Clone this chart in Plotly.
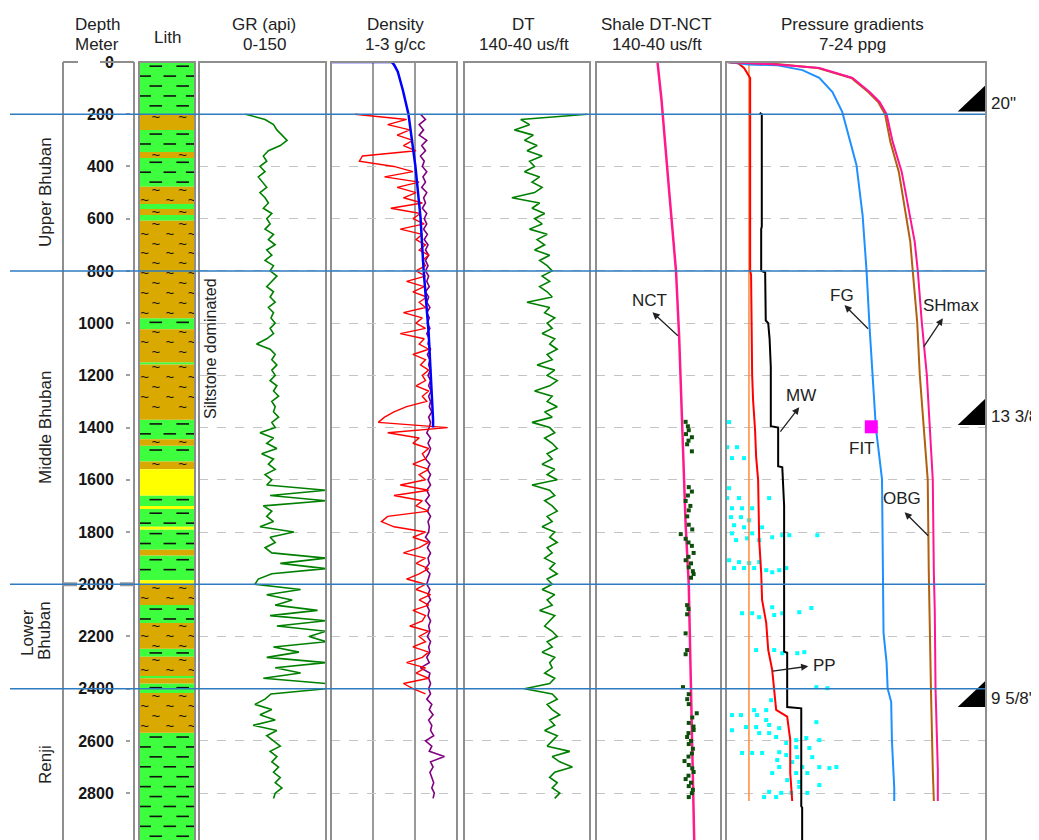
import plotly.graph_objects as go

# ---------------- DATA ----------------
log_depth = list(range(200, 2821, 20))          # sampling depths (m) for GR / DT / purple density
gr_api = [55, 78, 88, 92, 98, 104, 96, 82, 76, 80,
          72, 78, 70, 75, 80, 72, 78, 82, 76, 86,
          80, 84, 78, 88, 82, 90, 80, 86, 78, 88,
          84, 92, 86, 80, 88, 84, 90, 82, 88, 85,
          90, 84, 88, 80, 68, 84, 90, 86, 92, 86,
          90, 84, 92, 88, 94, 86, 90, 88, 94, 86,
          90, 72, 88, 80, 92, 74, 88, 82, 90, 78,
          86, 80, 150, 84, 150, 76, 86, 80, 88, 72,
          112, 84, 90, 78, 86, 150, 96, 150, 86, 70,
          66, 120, 80, 110, 90, 140, 84, 150, 92, 150,
          130, 150, 88, 118, 80, 150, 90, 120, 76, 150,
          150, 85, 78, 66, 86, 72, 90, 64, 92, 80,
          88, 96, 84, 92, 86, 94, 88, 96, 90, 98,
          90, 88]
dt_us = [42, 95, 88, 100, 85, 92, 82, 90, 78, 88,
         84, 92, 80, 86, 78, 84, 102, 80, 86, 76,
         84, 78, 88, 74, 82, 76, 84, 72, 80, 74,
         70, 78, 72, 80, 74, 70, 90, 72, 76, 68,
         74, 70, 78, 68, 72, 66, 74, 70, 82, 68,
         74, 66, 72, 84, 70, 74, 66, 76, 70, 86,
         72, 68, 76, 70, 66, 74, 70, 78, 68, 74,
         66, 86, 72, 68, 76, 70, 66, 74, 70, 78,
         68, 72, 66, 74, 70, 76, 68, 72, 66, 74,
         70, 78, 68, 74, 70, 80, 68, 72, 76, 70,
         66, 74, 70, 78, 68, 72, 70, 76, 68, 72,
         92, 70, 66, 74, 70, 64, 72, 68, 76, 66,
         70, 74, 56, 70, 64, 54, 68, 72, 66, 70,
         64, 68]
dens_purple = [2.42, 2.5, 2.4, 2.47, 2.4, 2.52, 2.44, 2.5, 2.42, 2.48,
               2.45, 2.52, 2.46, 2.5, 2.44, 2.52, 2.47, 2.5, 2.45, 2.52,
               2.48, 2.52, 2.47, 2.53, 2.48, 2.54, 2.5, 2.55, 2.5, 2.54,
               2.5, 2.55, 2.52, 2.56, 2.5, 2.55, 2.52, 2.57, 2.52, 2.56,
               2.53, 2.57, 2.52, 2.56, 2.54, 2.58, 2.53, 2.57, 2.55, 2.58,
               2.54, 2.58, 2.55, 2.59, 2.55, 2.58, 2.56, 2.6, 2.55, 2.58,
               2.56, 2.52, 2.58, 2.54, 2.58, 2.55, 2.5, 2.57, 2.53, 2.58,
               2.54, 2.58, 2.52, 2.56, 2.5, 2.57, 2.53, 2.58, 2.54, 2.56,
               2.55, 2.5, 2.57, 2.53, 2.58, 2.54, 2.56, 2.5, 2.57, 2.55,
               2.52, 2.57, 2.54, 2.58, 2.52, 2.56, 2.54, 2.58, 2.55, 2.57,
               2.53, 2.58, 2.55, 2.57, 2.52, 2.56, 2.42, 2.57, 2.55, 2.58,
               2.55, 2.58, 2.52, 2.6, 2.56, 2.62, 2.55, 2.6, 2.58, 2.63,
               2.5, 2.6, 2.56, 2.8, 2.58, 2.62, 2.57, 2.6, 2.63, 2.6,
               2.64, 2.62]
dens_red_depth = list(range(200, 2421, 20))
dens_red = [1.38, 2.2, 1.9, 2.25, 2.05, 2.3, 2.15, 2.35, 1.5, 1.45,
            2.0, 2.3, 1.85, 2.4, 2.05, 2.35, 2.15, 2.45, 1.95, 2.42,
            2.3, 2.48, 2.1, 2.45, 2.35, 2.5, 2.4, 2.55, 2.45, 2.5,
            2.35, 2.5, 2.2, 2.48, 2.3, 2.52, 2.4, 2.5, 2.15, 2.45,
            2.35, 2.5, 2.1, 2.48, 2.4, 2.55, 2.3, 2.5, 2.42, 2.55,
            2.45, 2.5, 2.35, 2.55, 2.45, 2.52, 2.2, 2.0, 1.85, 1.75,
            2.85, 1.9, 2.4, 2.3, 2.55, 2.45, 2.5, 2.3, 2.55, 2.4,
            2.5, 2.1, 2.55, 2.0, 2.45, 2.35, 2.55, 1.9, 1.8, 2.0,
            2.5, 2.3, 2.55, 2.4, 2.15, 2.5, 2.35, 2.55, 2.4, 2.2,
            2.5, 2.35, 2.58, 2.4, 2.55, 2.3, 2.5, 2.45, 2.25, 2.55,
            2.4, 2.5, 2.3, 2.55, 2.45, 2.2, 2.5, 2.35, 2.55, 2.15,
            2.3, 2.5]
dens_trend_depth = [0, 0, 10, 37, 107, 145, 200, 400, 593, 796, 1038, 1370, 1400]
dens_trend = [1.0, 1.96, 2.0, 2.06, 2.14, 2.18, 2.23, 2.34, 2.42, 2.47, 2.55, 2.62, 2.62]

nct_depth = [0, 145, 505, 800, 1050, 1336, 1772, 2000, 2400, 2672, 3010]
nct_dt = [90.8, 87.6, 81.3, 76.0, 73.5, 71.4, 68.3, 65.8, 64.0, 62.5, 61.3]
shale_depth = [1378, 1395, 1410, 1425, 1437, 1450, 1464, 1491, 1628, 1645, 1660, 1681, 1700, 1717,
               1740, 1772, 1790, 1808, 1826, 1840, 1853, 1880, 1895, 1908, 1920, 1935, 1950, 1961,
               1975, 2080, 2095, 2115, 2188, 2252, 2268, 2394, 2421, 2440, 2459, 2494, 2510, 2531,
               2545, 2558, 2570, 2585, 2600, 2612, 2630, 2648, 2660, 2677, 2692, 2705, 2719, 2733,
               2746, 2760, 2773, 2787, 2800, 2815]
shale_dt = [68.3, 66.5, 65.8, 68, 63.3, 66, 67.1, 63.3, 65.8, 63.3, 66.5, 68.3, 64.5, 65.8,
            67, 65.8, 63, 72.2, 68.3, 66, 63.3, 61.9, 66, 68.3, 64, 65.8, 62.5, 61.9,
            64, 67.1, 66, 67.1, 68.3, 67.1, 68.3, 70.4, 65.8, 67, 65.8, 59.4, 63, 65.8,
            62, 61.9, 66, 67.1, 64, 65.8, 62.5, 63.3, 66, 69.2, 65.8, 63, 61.9, 66,
            68.3, 64, 65.8, 62.5, 63.3, 65.8]

hydro_depth = [0, 2830]
hydro_ppg = [8.5, 8.5]
pp_depth = [0, 5, 23, 61, 800, 815, 1198, 1294, 1409, 1512, 1600, 1830, 1956, 2060, 2148,
            2251, 2328, 2404, 2481, 2507, 2596, 2722, 2830]
pp_ppg = [7.07, 7.8, 8.18, 8.58, 8.58, 8.64, 8.71, 8.77, 8.9, 8.97, 9.1, 9.17, 9.3, 9.36, 9.63,
          9.76, 10.02, 10.15, 10.28, 11.0, 11.2, 11.2, 11.33]
mw_depth = [195, 200, 630, 640, 800, 805, 990, 1000, 1060, 1170, 1395, 1400, 1548, 1552, 1700,
            2258, 2262, 2470, 2475, 2850, 2855, 3010]
mw_ppg = [9.2, 9.34, 9.34, 9.3, 9.3, 9.56, 9.6, 9.76, 9.85, 9.93, 9.93, 10.41, 10.41, 10.68, 10.8,
          10.8, 11.0, 11.0, 11.92, 11.92, 11.98, 11.98]
fg_depth = [0, 10, 12, 31, 61, 115, 191, 268, 394, 586, 800, 1018, 1198, 1400, 1597, 1800, 2000,
            2186, 2300, 2400, 2450, 2600, 2780, 2830]
fg_ppg = [7.07, 8.5, 10.3, 12.0, 13.1, 13.96, 14.6, 14.94, 15.53, 15.93, 16.19, 16.39, 16.58, 16.8,
          17.2, 17.25, 17.3, 17.3, 17.5, 17.57, 17.8, 17.85, 18.0, 18.0]
obg_depth = [0, 10, 23, 61, 115, 153, 200, 306, 421, 547, 689, 800, 995, 1198, 1400, 1600, 1956,
             2100, 2400, 2710, 2830]
obg_ppg = [7.07, 10.3, 13.1, 15.27, 16.39, 17.04, 17.5, 17.9, 18.49, 18.88, 19.34, 19.54, 19.8,
           20.13, 20.35, 20.52, 20.59, 20.65, 20.7, 20.85, 20.85]
shmax_depth = [0, 8, 23, 61, 115, 153, 200, 306, 421, 547, 689, 800, 995, 1198, 1400, 1600, 1956,
               2100, 2400, 2710, 2830]
shmax_ppg = [7.07, 10.3, 13.0, 15.2, 16.3, 16.95, 17.4, 17.75, 18.3, 18.65, 19.05, 19.21, 19.5,
             19.67, 19.95, 20.19, 20.26, 20.3, 20.4, 20.52, 20.59]
fit_depth = [1397]
fit_ppg = [16.5]
ppobs_depth = [1379, 1475, 1475, 1517, 1517, 1632, 1670, 1670, 1670, 1709, 1709, 1709, 1743, 1743,
               1755, 1774, 1782, 1782, 1805, 1805, 1820, 1812, 1812, 1812, 1831, 1824, 1831, 1908,
               1915, 1919, 1915, 1938, 1938, 1938, 1946, 1946, 1938, 1954, 2111, 2111, 2126, 2088,
               2118, 2111, 2107, 2091, 2252, 2252, 2264, 2264, 2260, 2394, 2398, 2444, 2482, 2482,
               2501, 2501, 2501, 2520, 2559, 2547, 2547, 2539, 2551, 2528, 2570, 2570, 2585, 2597,
               2589, 2597, 2608, 2624, 2627, 2643, 2646, 2646, 2646, 2654, 2662, 2662, 2673, 2681,
               2700, 2700, 2700, 2700, 2723, 2723, 2723, 2704, 2750, 2757, 2769, 2795, 2799, 2799,
               2799, 2815, 2815, 2776]
ppobs_ppg = [7.2, 7.07, 7.72, 7.39, 8.18, 7.2, 7.07, 7.85, 9.82, 7.39, 8.05, 8.71, 7.33, 7.98,
             8.51, 7.53, 8.18, 9.36, 7.39, 8.71, 10.02, 10.68, 11.14, 12.97, 7.66, 8.38, 9.17, 7.2,
             7.85, 8.51, 9.17, 7.53, 8.18, 8.84, 9.63, 10.48, 10.94, 10.02, 8.05, 8.71, 9.17, 10.02,
             10.15, 10.68, 11.79, 12.58, 8.97, 10.15, 10.68, 11.66, 12.12, 12.91, 13.63, 9.95, 8.84, 9.63,
             7.39, 7.98, 9.03, 9.63, 7.39, 8.31, 8.97, 9.82, 10.48, 12.91, 9.17, 9.82, 10.28, 11.59,
             12.25, 13.1, 10.94, 11.59, 12.45, 10.48, 8.05, 8.71, 9.36, 10.94, 11.66, 12.64, 10.35, 11.33,
             10.48, 11.99, 13.1, 14.22, 10.02, 11.59, 12.32, 13.76, 11.0, 11.79, 13.1, 9.82, 10.61, 11.27,
             12.32, 9.49, 10.28, 11.79]

lith_top = [0, 200, 260, 345, 368, 478, 544, 563, 586, 608, 981, 1023, 1150, 1158, 1370, 1445, 1470,
            1530, 1560, 1660, 1700, 1712, 1780, 1790, 1868, 1890, 1985, 2002, 2079, 2148, 2247, 2278,
            2351, 2360, 2380, 2416, 2569]
lith_base = [200, 260, 345, 368, 478, 544, 563, 586, 608, 981, 1023, 1150, 1158, 1370, 1445, 1470, 1530,
             1560, 1660, 1700, 1712, 1780, 1790, 1868, 1890, 1985, 2002, 2079, 2148, 2247, 2278, 2351,
             2360, 2380, 2416, 2569, 3010]
lith_type = ["shale", "silt", "shale", "silt", "shale", "silt", "shale", "silt", "shale", "silt",
             "shale", "silt", "shale", "silt", "shale", "silt", "shale", "silt", "sand", "shale",
             "sand", "shale", "sand", "shale", "silt", "shale", "sand", "silt", "shale", "silt",
             "shale", "silt", "shale", "silt", "shale", "silt", "shale"]

formation_tops = [200, 800, 2000, 2400]
casing_shoe = [190, 1390, 2470]
casing_label = ['20"', '13 3/8"', '9 5/8"']
depth_ticks = list(range(0, 3001, 200))

# ---------------- LAYOUT HELPERS ----------------
W, H = 1039, 840
OFF = 8                      # page offset of the plot div (body margin)
TOPPX = 62
def px(x): return (x - OFF) / W
def py(y): return 1 - (y - OFF) / H
YDOM = [0, py(TOPPX)]
DMAX = 3010

tracks = {"depth": (63, 134), "lith": (139, 195), "gr": (199, 326), "dens": (331, 457),
          "dt": (464, 590), "shale": (596, 721), "press": (726, 986)}

FONT = "Liberation Sans, Arial, sans-serif"
fig = go.Figure()

# Lithology bars
lith_colors = {"shale": "#3dff3d", "silt": "#d9a900", "sand": "#ffff00"}
for kind in ["shale", "silt", "sand"]:
    tops = [t for t, k in zip(lith_top, lith_type) if k == kind]
    thick = [b - t for t, b, k in zip(lith_top, lith_base, lith_type) if k == kind]
    fig.add_trace(go.Bar(x=[0.5] * len(tops), y=thick, base=tops, width=1.0,
                         marker=dict(color=lith_colors[kind], line=dict(width=0)),
                         xaxis="x", yaxis="y", hoverinfo="skip"))
# lithology symbols
dx, dy, wx, wy = [], [], [], []
for t, b, k in zip(lith_top, lith_base, lith_type):
    if k == "sand":
        continue
    d, row = t + 16, 0
    while d < b - 6:
        xs = [0.3, 0.78] if row % 2 == 0 else [0.1, 0.55, 0.95]
        for xv in xs:
            if k == "shale":
                dx.append(xv); dy.append(d)
            else:
                wx.append(xv); wy.append(d)
        d += 38; row += 1
fig.add_trace(go.Scatter(x=dx, y=dy, mode="markers", xaxis="x", yaxis="y", hoverinfo="skip",
                         marker=dict(symbol="line-ew", size=9, line=dict(width=1.6, color="#111"))))
fig.add_trace(go.Scatter(x=wx, y=wy, mode="text", text=["~"] * len(wx), xaxis="x", yaxis="y",
                         textfont=dict(size=15, color="#111"), hoverinfo="skip"))

# GR
fig.add_trace(go.Scatter(x=gr_api, y=log_depth, mode="lines", line=dict(color="#008000", width=1.6),
                         xaxis="x2", yaxis="y"))
# Density
fig.add_trace(go.Scatter(x=dens_purple, y=log_depth, mode="lines", line=dict(color="#800080", width=1.6),
                         xaxis="x3", yaxis="y"))
fig.add_trace(go.Scatter(x=dens_red, y=dens_red_depth, mode="lines", line=dict(color="#ff0000", width=1.4),
                         xaxis="x3", yaxis="y"))
fig.add_trace(go.Scatter(x=dens_trend, y=dens_trend_depth, mode="lines", line=dict(color="#0000ff", width=2.5),
                         xaxis="x3", yaxis="y"))
# DT
fig.add_trace(go.Scatter(x=dt_us, y=log_depth, mode="lines", line=dict(color="#008000", width=1.6),
                         xaxis="x4", yaxis="y"))
# Shale DT - NCT
fig.add_trace(go.Scatter(x=nct_dt, y=nct_depth, mode="lines", line=dict(color="#ff1a8c", width=2.5),
                         xaxis="x5", yaxis="y"))
fig.add_trace(go.Scatter(x=shale_dt, y=shale_depth, mode="markers",
                         marker=dict(color="#0b4f0b", size=4, symbol="square"), xaxis="x5", yaxis="y"))
# Pressure gradients
fig.add_trace(go.Scatter(x=ppobs_ppg, y=ppobs_depth, mode="markers",
                         marker=dict(color="#00ffff", size=4, symbol="square"), xaxis="x6", yaxis="y"))
fig.add_trace(go.Scatter(x=hydro_ppg, y=hydro_depth, mode="lines", line=dict(color="#ff8a3d", width=1.5),
                         xaxis="x6", yaxis="y"))
fig.add_trace(go.Scatter(x=pp_ppg, y=pp_depth, mode="lines", line=dict(color="#ff0000", width=2),
                         xaxis="x6", yaxis="y"))
fig.add_trace(go.Scatter(x=mw_ppg, y=mw_depth, mode="lines", line=dict(color="#000000", width=2),
                         xaxis="x6", yaxis="y"))
fig.add_trace(go.Scatter(x=fg_ppg, y=fg_depth, mode="lines", line=dict(color="#1e90ff", width=2),
                         xaxis="x6", yaxis="y"))
fig.add_trace(go.Scatter(x=shmax_ppg, y=shmax_depth, mode="lines", line=dict(color="#b0600f", width=2),
                         xaxis="x6", yaxis="y"))
fig.add_trace(go.Scatter(x=obg_ppg, y=obg_depth, mode="lines", line=dict(color="#ff1493", width=2),
                         xaxis="x6", yaxis="y"))
fig.add_trace(go.Scatter(x=fit_ppg, y=fit_depth, mode="markers",
                         marker=dict(color="#ff00ff", size=13, symbol="square"), xaxis="x6", yaxis="y"))
# casing shoes
for cd in casing_shoe:
    fig.add_trace(go.Scatter(x=[23.95, 23.95, 22.15, 23.95], y=[cd - 100, cd, cd, cd - 100],
                             mode="lines", fill="toself", fillcolor="#000000",
                             line=dict(width=0, color="#000000"), xaxis="x6", yaxis="y"))

# ---------------- AXES ----------------
def xax(key, rng, **kw):
    l, r = tracks[key]
    d = dict(domain=[px(l), px(r)], range=rng, showticklabels=False, ticks="", showline=False,
             zeroline=False, showgrid=False, anchor="y", fixedrange=True)
    d.update(kw)
    return d

fig.update_layout(
    xaxis=xax("lith", [0, 1]),
    xaxis2=xax("gr", [0, 150]),
    xaxis3=xax("dens", [1, 3], showgrid=True, tickvals=[5 / 3, 7 / 3], gridcolor="#9a9a9a", gridwidth=1.5),
    xaxis4=xax("dt", [140, 40]),
    xaxis5=xax("shale", [140, 40]),
    xaxis6=xax("press", [7, 24]),
    yaxis=dict(domain=YDOM, range=[DMAX, 0], anchor="free", position=px(130), side="left",
               tickvals=depth_ticks, ticks="outside", ticklen=4, tickcolor="#a0a0a0", tickwidth=1.5,
               tickfont=dict(family=FONT, size=16, color="#151515", weight="bold"),
               ticklabelstandoff=9, showgrid=True, gridcolor="#c4c4c4", griddash="dash", gridwidth=1,
               zeroline=False, showline=False, fixedrange=True, automargin=False),
)

# ---------------- SHAPES ----------------
shapes = []
FR = dict(color="#8e8e8e", width=2)
for key in ["lith", "gr", "dens", "dt", "shale", "press"]:
    l, r = tracks[key]
    shapes.append(dict(type="rect", xref="paper", yref="paper", x0=px(l), x1=px(r), y0=-0.02,
                       y1=py(TOPPX), line=FR, fillcolor="rgba(0,0,0,0)", layer="above"))
l, r = tracks["depth"]
for (a, b) in [(l, l), (r, r)]:
    shapes.append(dict(type="line", xref="paper", yref="paper", x0=px(a), x1=px(b), y0=-0.02,
                       y1=py(TOPPX), line=FR, layer="above"))
for (a, b) in [(l, 78), (100, r)]:
    shapes.append(dict(type="line", xref="paper", yref="paper", x0=px(a), x1=px(b), y0=py(TOPPX),
                       y1=py(TOPPX), line=FR, layer="above"))
for (a, b) in [(l, 77), (120, r)]:
    shapes.append(dict(type="line", xref="paper", yref="y", x0=px(a), x1=px(b), y0=2000, y1=2000,
                       line=dict(color="#9a9a9a", width=4), layer="above"))
for ft in formation_tops:
    shapes.append(dict(type="line", xref="paper", yref="y", x0=px(10), x1=px(985), y0=ft, y1=ft,
                       line=dict(color="#2f7bc0", width=1.5), layer="above"))
fig.update_layout(shapes=shapes)

# ---------------- ANNOTATIONS ----------------
ann = []
def txt(t, x, y, size=17, angle=0, xanchor="center"):
    ann.append(dict(text=t, x=px(x), y=py(y), xref="paper", yref="paper", showarrow=False,
                    xanchor=xanchor, yanchor="middle", textangle=angle,
                    font=dict(family=FONT, size=size, color="#222")))

headers = [("Depth", 97, 24), ("Meter", 97, 45), ("Lith", 167, 38), ("GR (api)", 264, 24), ("0-150", 264, 45),
           ("Density", 395, 24), ("1-3 g/cc", 395, 45), ("DT", 523, 24), ("140-40 us/ft", 524, 45),
           ("Shale DT-NCT", 656, 24), ("140-40 us/ft", 657, 45), ("Pressure gradients", 852, 24),
           ("7-24 ppg", 852, 45)]
for t, x, y in headers:
    txt(t, x, y)
for t, x, y in [("Upper Bhuban", 45, 192), ("Middle Bhuban", 45, 428), ("Lower", 27, 633),
                ("Bhuban", 44, 631), ("Renji", 45, 765)]:
    txt(t, x, y, angle=-90)
txt("Siltstone dominated", 210, 349, size=16, angle=-90)

for cd, lab in zip(casing_shoe, casing_label):
    ann.append(dict(text=lab, x=px(989), y=cd - 32, xref="paper", yref="y", showarrow=False,
                    xanchor="left", yanchor="middle", font=dict(family=FONT, size=17, color="#222")))

def dtext(t, x, y, xr):
    ann.append(dict(text=t, x=x, y=y, xref=xr, yref="y", showarrow=False, xanchor="center",
                    yanchor="middle", font=dict(family=FONT, size=17, color="#222")))

def arrow(hx, hy, tx, ty, xr):
    ann.append(dict(text="", x=hx, y=hy, ax=tx, ay=ty, xref=xr, yref="y", axref=xr, ayref="y",
                    showarrow=True, arrowhead=2, arrowsize=1.1, arrowwidth=1.3, arrowcolor="#222"))

dtext("NCT", 97.1, 912, "x5"); arrow(94.8, 958, 73.3, 1054, "x5")
dtext("FG", 14.6, 893, "x6"); arrow(14.75, 931, 16.39, 1027, "x6")
dtext("SHmax", 21.7, 931, "x6"); arrow(21.18, 981, 19.87, 1096, "x6")
dtext("MW", 11.92, 1276, "x6"); arrow(11.79, 1322, 10.48, 1421, "x6")
dtext("FIT", 15.86, 1479, "x6")
dtext("OBG", 18.49, 1670, "x6"); arrow(18.68, 1724, 20.32, 1820, "x6")
dtext("PP", 13.43, 2310, "x6"); arrow(12.38, 2314, 9.95, 2333, "x6")

fig.update_layout(annotations=ann)

fig.update_layout(width=W, height=H, autosize=False, margin=dict(l=0, r=0, t=0, b=0),
                  paper_bgcolor="white", plot_bgcolor="white", showlegend=False, barmode="overlay",
                  font=dict(family=FONT))

fig.write_html("out.html")
